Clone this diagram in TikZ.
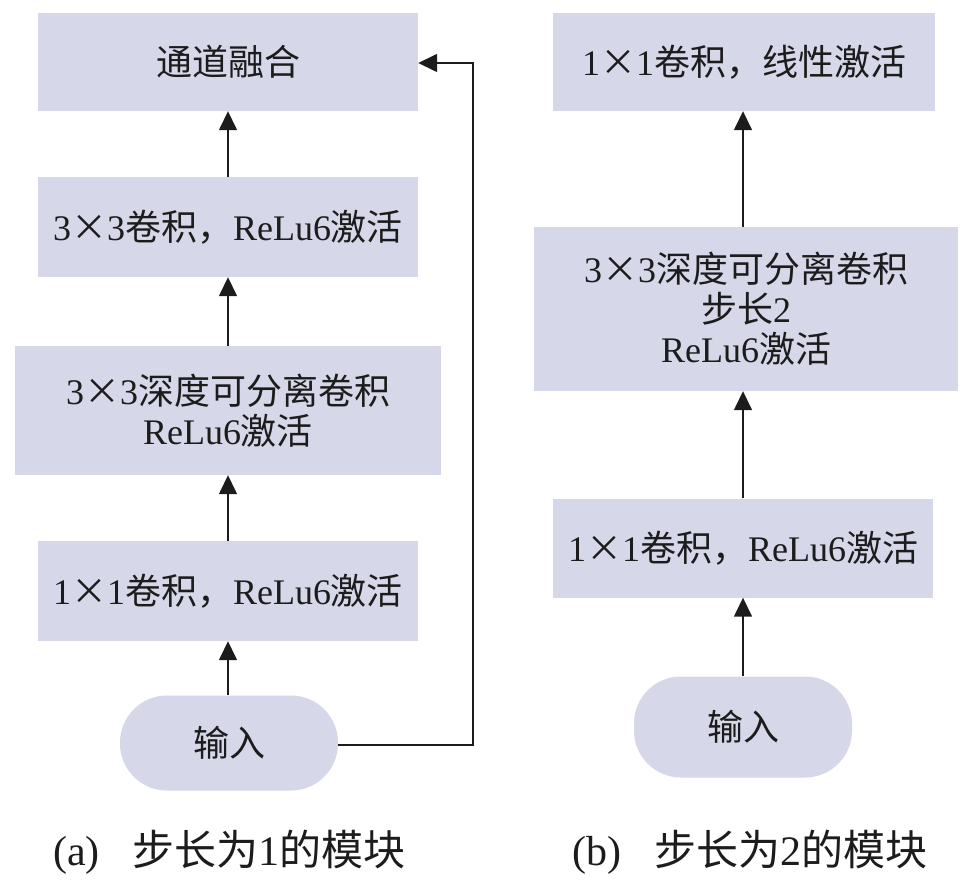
\documentclass[tikz,border=0pt]{standalone}
\usepackage{fontspec}
\setmainfont{Liberation Serif}
\newfontfamily\cjk{Noto Sans CJK SC}
\usetikzlibrary{arrows.meta}
\definecolor{boxfill}{HTML}{D6D7E9}
\definecolor{ink}{HTML}{1C1C1C}
\newcommand{\mytimes}{\makebox[1em]{\cjk ×}}
\begin{document}
\begin{tikzpicture}[x=1pt,y=-1pt,
  box/.style={fill=boxfill, draw=none, inner sep=0pt, align=center,
    font=\fontsize{36}{40}\selectfont, text=ink},
  capsule/.style={box, rounded corners=47pt},
  arr/.style={draw=ink, line width=1.5pt, -{Triangle[width=18pt,length=19pt]}},
  caption/.style={anchor=west, inner sep=0pt, font=\fontsize{42}{48}\selectfont, text=ink}
]
\useasboundingbox (0,0) rectangle (976,886);
\fill[white] (0,0) rectangle (976,886);

% ---- left column (a)
\node[box, minimum width=380pt, minimum height=98pt] (L4) at (228,62) {{\cjk 通道融合}};
\node[box, minimum width=380pt, minimum height=100pt] (L3) at (228,227) {3\mytimes 3{\cjk 卷积，}ReLu6{\cjk 激活}};
\node[box, minimum width=426pt, minimum height=129pt] (L2) at (228,410.5) {3\mytimes 3{\cjk 深度可分离卷积}\\ReLu6{\cjk 激活}};
\node[box, minimum width=380pt, minimum height=100pt] (L1) at (228,591) {1\mytimes 1{\cjk 卷积，}ReLu6{\cjk 激活}};
\node[capsule, minimum width=218pt, minimum height=95pt] (LI) at (229,743) {{\cjk 输入}};

\draw[arr] (LI.north -| L1.south) -- (L1.south);
\draw[arr] (L1.north) -- (L2.south);
\draw[arr] (L2.north) -- (L3.south);
\draw[arr] (L3.north) -- (L4.south);
\coordinate (skipB) at (473,745);
\coordinate (skipT) at (473,63);
\draw[arr] (LI.east |- skipB) -- (skipB) -- (skipT) -- (L4.east |- skipT);

% ---- right column (b)
\node[box, minimum width=382pt, minimum height=98pt] (R4) at (744,62) {1\mytimes 1{\cjk 卷积，线性激活}};
\node[box, minimum width=424pt, minimum height=164pt] (R3) at (746,309) {3\mytimes 3{\cjk 深度可分离卷积}\\{\cjk 步长}2\\ReLu6{\cjk 激活}};
\node[box, minimum width=380pt, minimum height=99pt] (R2) at (743,548) {1\mytimes 1{\cjk 卷积，}ReLu6{\cjk 激活}};
\node[capsule, minimum width=218pt, minimum height=101pt] (RI) at (743,727) {{\cjk 输入}};

\draw[arr] (RI.north) -- (RI.north |- R2.south);
\draw[arr] (R2.north) -- (R2.north |- R3.south);
\draw[arr] (R2.north |- R3.north) -- (R2.north |- R4.south);

% ---- captions
\node[caption] (capA) at (53,852) {(a)\hspace{33pt}{\cjk 步长为}1{\cjk 的模块}};
\node[caption] (capB) at (572,852) {(b)\hspace{33pt}{\cjk 步长为}2{\cjk 的模块}};
\end{tikzpicture}
\end{document}
